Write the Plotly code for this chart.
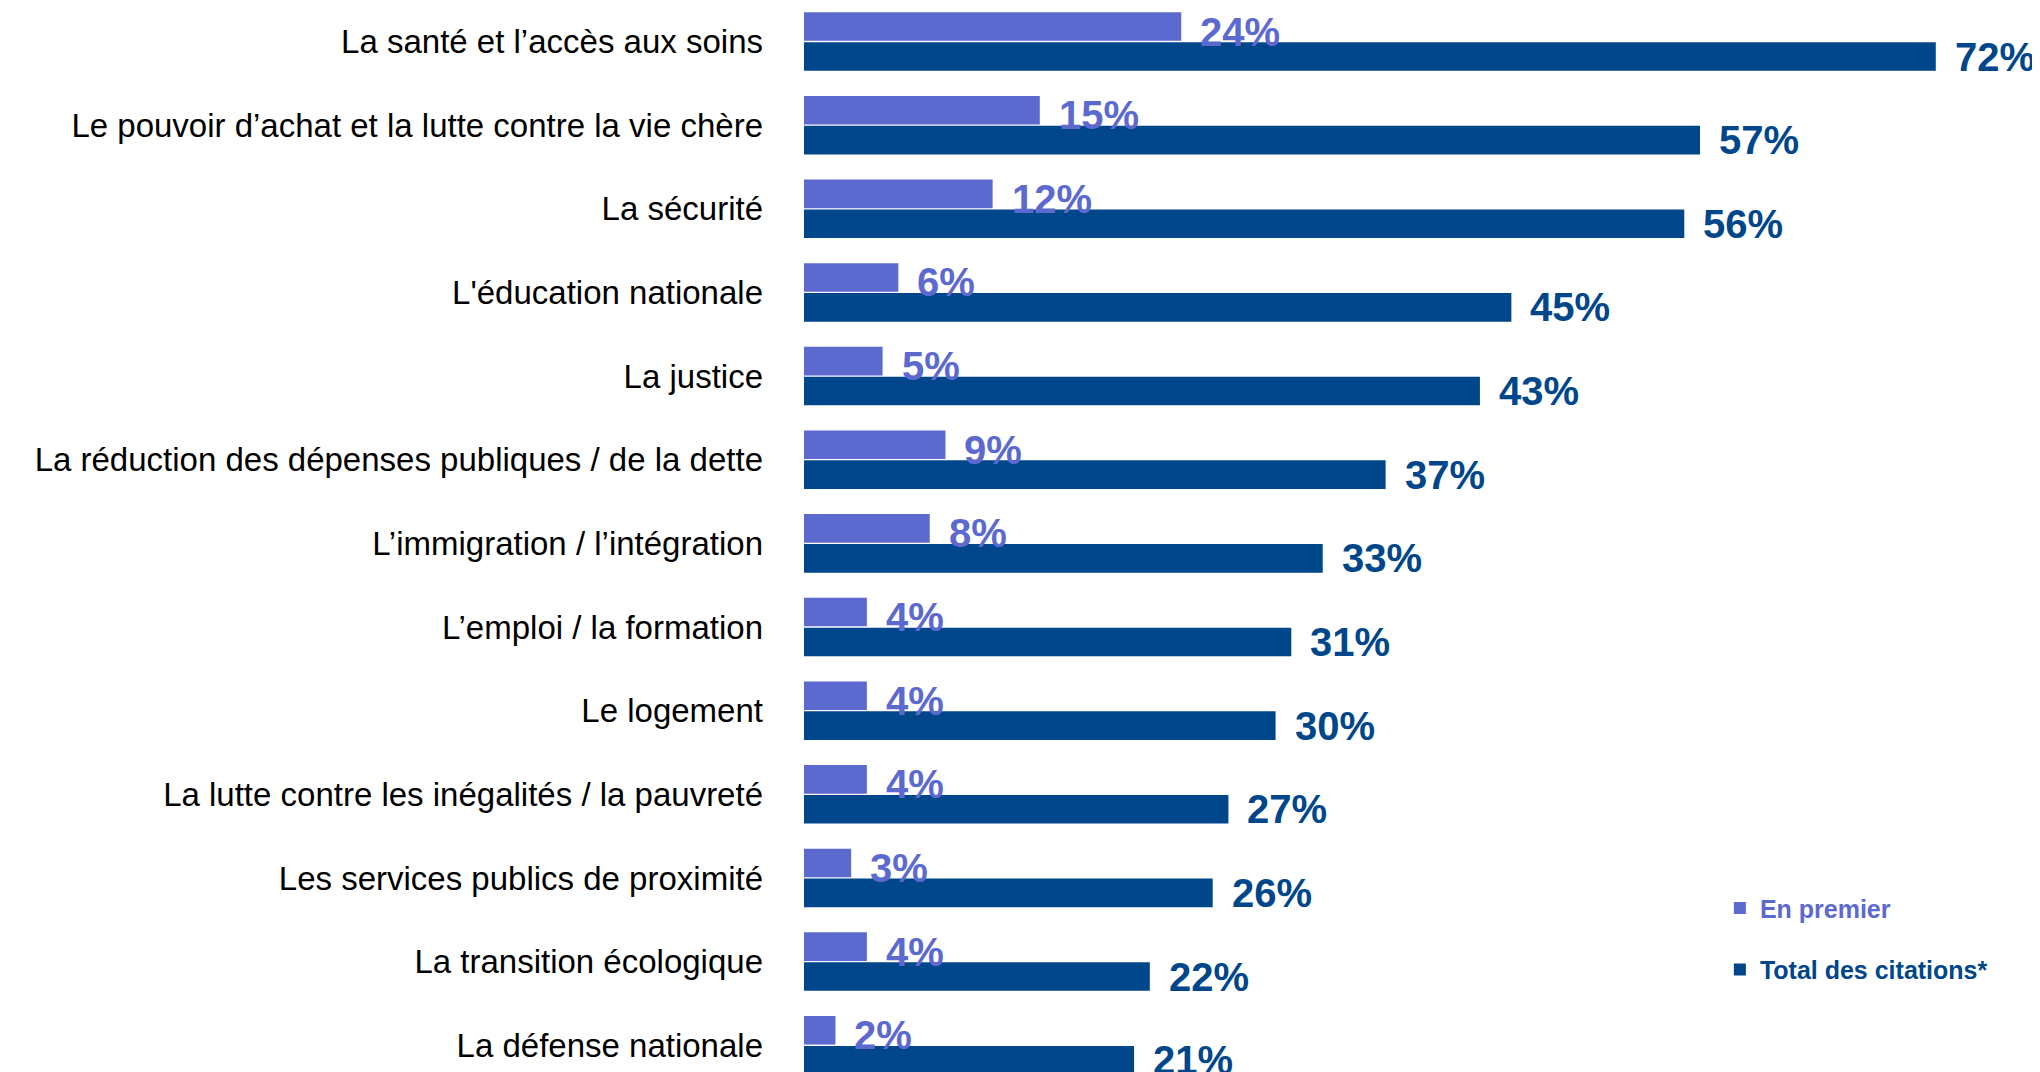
import plotly.graph_objects as go

categories = [
    "La santé et l’accès aux soins",
    "Le pouvoir d’achat et la lutte contre la vie chère",
    "La sécurité",
    "L'éducation nationale",
    "La justice",
    "La réduction des dépenses publiques / de la dette",
    "L’immigration / l’intégration",
    "L’emploi / la formation",
    "Le logement",
    "La lutte contre les inégalités / la pauvreté",
    "Les services publics de proximité",
    "La transition écologique",
    "La défense nationale",
]
en_premier = [24, 15, 12, 6, 5, 9, 8, 4, 4, 4, 3, 4, 2]
total_citations = [72, 57, 56, 45, 43, 37, 33, 31, 30, 27, 26, 22, 21]

LIGHT = "#5C69CE"
DARK = "#00468A"
FONT = "Liberation Sans, Arial, sans-serif"

fig = go.Figure()
fig.add_trace(go.Bar(
    y=categories, x=en_premier, orientation="h",
    name=f"<b><span style='color:{LIGHT}'>En premier</span></b>",
    marker=dict(color=LIGHT, line=dict(width=0)),
    legendgroup="a", hoverinfo="skip",
))
fig.add_trace(go.Bar(
    y=categories, x=total_citations, orientation="h",
    name=f"<b><span style='color:{DARK}'>Total des citations*</span></b>",
    marker=dict(color=DARK, line=dict(width=0)),
    legendgroup="b", hoverinfo="skip",
))

annotations = []
for cat, v in zip(categories, en_premier):
    annotations.append(dict(
        x=v, y=cat, xref="x", yref="y", text=f"<b>{v}%</b>", showarrow=False,
        xanchor="left", yanchor="middle", xshift=17, yshift=10,
        font=dict(family=FONT, size=40, color=LIGHT),
    ))
for cat, v in zip(categories, total_citations):
    annotations.append(dict(
        x=v, y=cat, xref="x", yref="y", text=f"<b>{v}%</b>", showarrow=False,
        xanchor="left", yanchor="middle", xshift=17, yshift=-15,
        font=dict(family=FONT, size=40, color=DARK),
    ))

fig.update_layout(
    width=2032, height=1064,
    margin=dict(l=796, r=0, t=0, b=0),
    paper_bgcolor="white", plot_bgcolor="white",
    barmode="group", bargap=0.285, bargroupgap=0.043,
    font=dict(family=FONT, color="black"),
    showlegend=True,
    annotations=annotations,
    legend=dict(
        x=0.741, y=0.17 + 0.0056, xanchor="left", yanchor="top",
        font=dict(size=25, family=FONT),
        traceorder="grouped", tracegroupgap=26,
        bgcolor="rgba(0,0,0,0)", itemclick=False,
    ),
    xaxis=dict(range=[0, 78.63], visible=False, showgrid=False, zeroline=False, fixedrange=True),
    yaxis=dict(
        type="category", range=[12.32, -0.4005],
        showgrid=False, zeroline=False, showline=False, ticks="",
        tickfont=dict(size=33, color="black", family=FONT),
        ticklabelstandoff=40, fixedrange=True,
    ),
)

fig.write_html("out.html", config={"displayModeBar": False})
